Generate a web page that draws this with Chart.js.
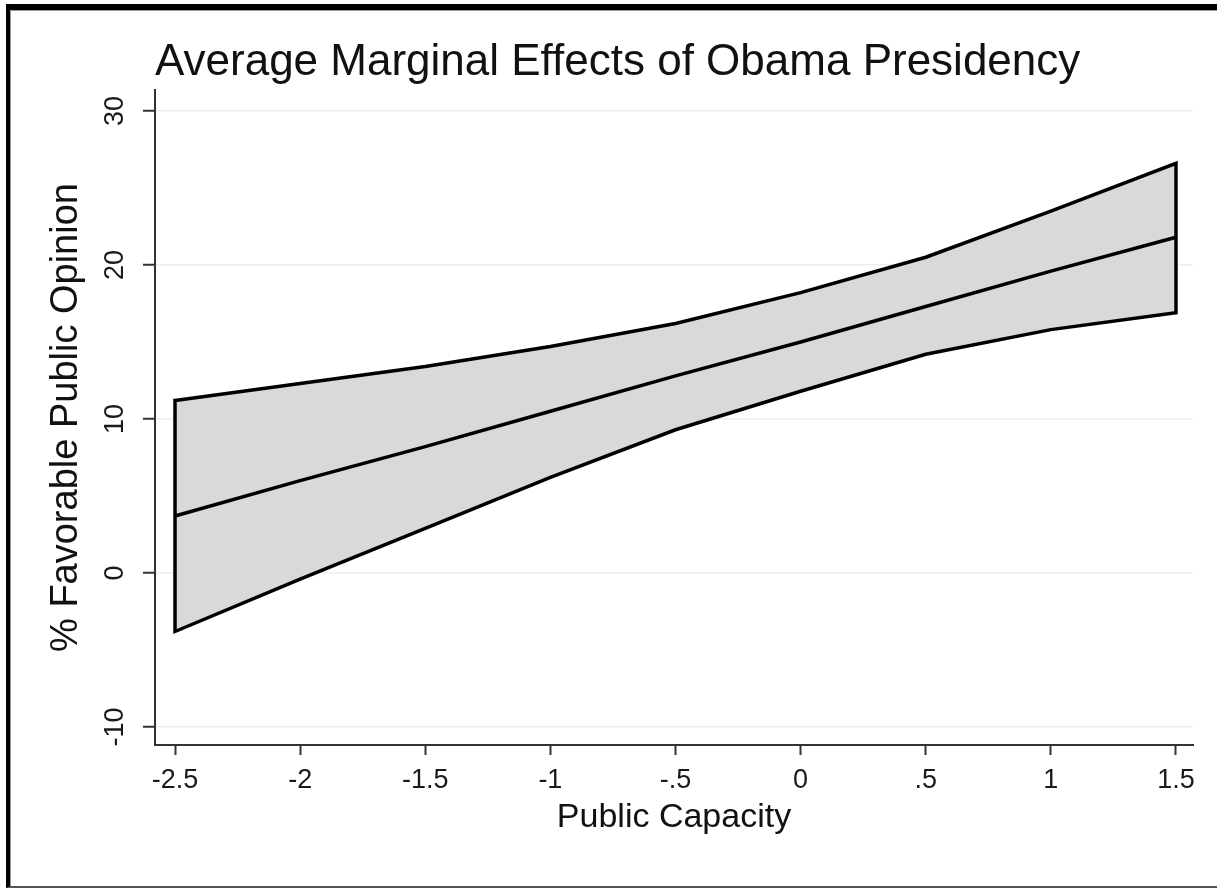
<!DOCTYPE html>
<html>
<head>
<meta charset="utf-8">
<title>Average Marginal Effects of Obama Presidency</title>
<script src="https://cdn.jsdelivr.net/npm/chart.js@4.4.1/dist/chart.umd.min.js"></script>
<style>
  html, body { margin: 0; padding: 0; background: #fff; overflow: hidden; }
  body { width: 1217px; height: 888px; position: relative; }
  .frame {
    position: absolute; left: 6px; top: 4px; width: 1230px; height: 876px;
    border-top: 6px solid #000; border-left: 4px solid #000; border-bottom: 2px solid #555;
  }
  .frame::before {
    content: ""; position: absolute; left: 0; top: 0; right: 0; bottom: 0;
    border-top: 1px solid #999; border-left: 1px solid #999;
  }
  #chart { position: absolute; left: 0; top: 0; }
</style>
</head>
<body>
<div class="frame"></div>
<canvas id="chart" width="1217" height="888"></canvas>
<script>
/* ===== Data ===== */
const capacity = [-2.5, -2, -1.5, -1, -0.5, 0, 0.5, 1, 1.5];
const effect = [3.7, 6.0, 8.2, 10.5, 12.8, 15.0, 17.3, 19.6, 21.8];
const upperCI = [11.2, 12.3, 13.4, 14.7, 16.2, 18.2, 20.5, 23.5, 26.6];
const lowerCI = [-3.8, -0.4, 2.9, 6.2, 9.3, 11.8, 14.2, 15.8, 16.9];

const xTicks = [-2.5, -2, -1.5, -1, -0.5, 0, 0.5, 1, 1.5];
const xTickLabels = ["-2.5", "-2", "-1.5", "-1", "-.5", "0", ".5", "1", "1.5"];
const yTicks = [-10, 0, 10, 20, 30];
const yTickLabels = ["-10", "0", "10", "20", "30"];

const chartTitle = "Average Marginal Effects of Obama Presidency";
const xTitle = "Public Capacity";
const yTitle = "% Favorable Public Opinion";

/* ===== Helpers ===== */
const FONT = "'Liberation Sans', Arial, sans-serif";
const AXIS = "#333";

function toPoints(ys) {
  return capacity.map((x, i) => ({ x, y: ys[i] }));
}

// upper edge forward, lower edge back, closed
function outlinePoints() {
  const up = toPoints(upperCI);
  const low = toPoints(lowerCI).reverse();
  return [...up, ...low, up[0]];
}

const titlePlugin = {
  id: "leftTitle",
  afterDraw(chart) {
    const ctx = chart.ctx;
    ctx.save();
    ctx.font = `44px ${FONT}`;
    ctx.fillStyle = "#111";
    ctx.textBaseline = "alphabetic";
    ctx.textAlign = "left";
    ctx.fillText(chartTitle, chart.chartArea.left, 75);
    ctx.restore();
  },
};

/* ===== Chart ===== */
const ctx = document.getElementById("chart").getContext("2d");

new Chart(ctx, {
  type: "line",
  data: {
    datasets: [
      {
        data: toPoints(lowerCI),
        borderWidth: 0,
        pointRadius: 0,
        fill: false,
      },
      {
        data: toPoints(upperCI),
        borderWidth: 0,
        pointRadius: 0,
        backgroundColor: "#d9d9d9",
        fill: "-1",
      },
      {
        data: outlinePoints(),
        borderColor: "#000",
        borderWidth: 3.5,
        borderJoinStyle: "miter",
        borderCapStyle: "square",
        pointRadius: 0,
        fill: false,
      },
      {
        data: toPoints(effect),
        borderColor: "#000",
        borderWidth: 3.5,
        borderJoinStyle: "miter",
        pointRadius: 0,
        fill: false,
      },
    ],
  },
  options: {
    responsive: false,
    animation: false,
    devicePixelRatio: 1,
    layout: { padding: { top: 90, right: 24, left: 0, bottom: 0 } },
    plugins: {
      legend: { display: false },
      tooltip: { enabled: false },
      filler: { drawTime: "beforeDatasetsDraw" },
    },
    elements: { line: { tension: 0 } },
    scales: {
      x: {
        type: "linear",
        min: -2.58,
        max: 1.568,
        afterFit: (scale) => { scale.height = 143; },
        afterBuildTicks: (scale) => { scale.ticks = xTicks.map((v) => ({ value: v })); },
        border: { display: true, color: AXIS, width: 2 },
        grid: {
          drawOnChartArea: false,
          drawTicks: true,
          tickLength: 10,
          tickColor: AXIS,
          tickWidth: 2,
        },
        ticks: {
          padding: 9,
          color: "#1a1a1a",
          font: { family: FONT, size: 27 },
          maxRotation: 0,
          autoSkip: false,
          callback: (val, idx) => xTickLabels[idx],
        },
        title: {
          display: true,
          text: xTitle,
          color: "#111",
          font: { family: FONT, size: 34 },
          padding: { top: 0, bottom: 50 },
        },
      },
      y: {
        type: "linear",
        min: -11.17,
        max: 31.36,
        afterFit: (scale) => { scale.width = 155; },
        afterBuildTicks: (scale) => { scale.ticks = yTicks.map((v) => ({ value: v })); },
        border: { display: true, color: AXIS, width: 2 },
        grid: {
          color: "#e8f0f1",
          lineWidth: 1.5,
          drawTicks: true,
          tickLength: 12,
          tickColor: AXIS,
          tickWidth: 2,
        },
        ticks: {
          padding: 8,
          color: "#1a1a1a",
          font: { family: FONT, size: 27 },
          minRotation: 90,
          maxRotation: 90,
          crossAlign: "center",
          autoSkip: false,
          callback: (val, idx) => yTickLabels[idx],
        },
        title: {
          display: true,
          text: yTitle,
          color: "#111",
          font: { family: FONT, size: 38 },
          padding: { top: 44, bottom: 0 },
        },
      },
    },
  },
  plugins: [titlePlugin],
});
</script>
</body>
</html>
